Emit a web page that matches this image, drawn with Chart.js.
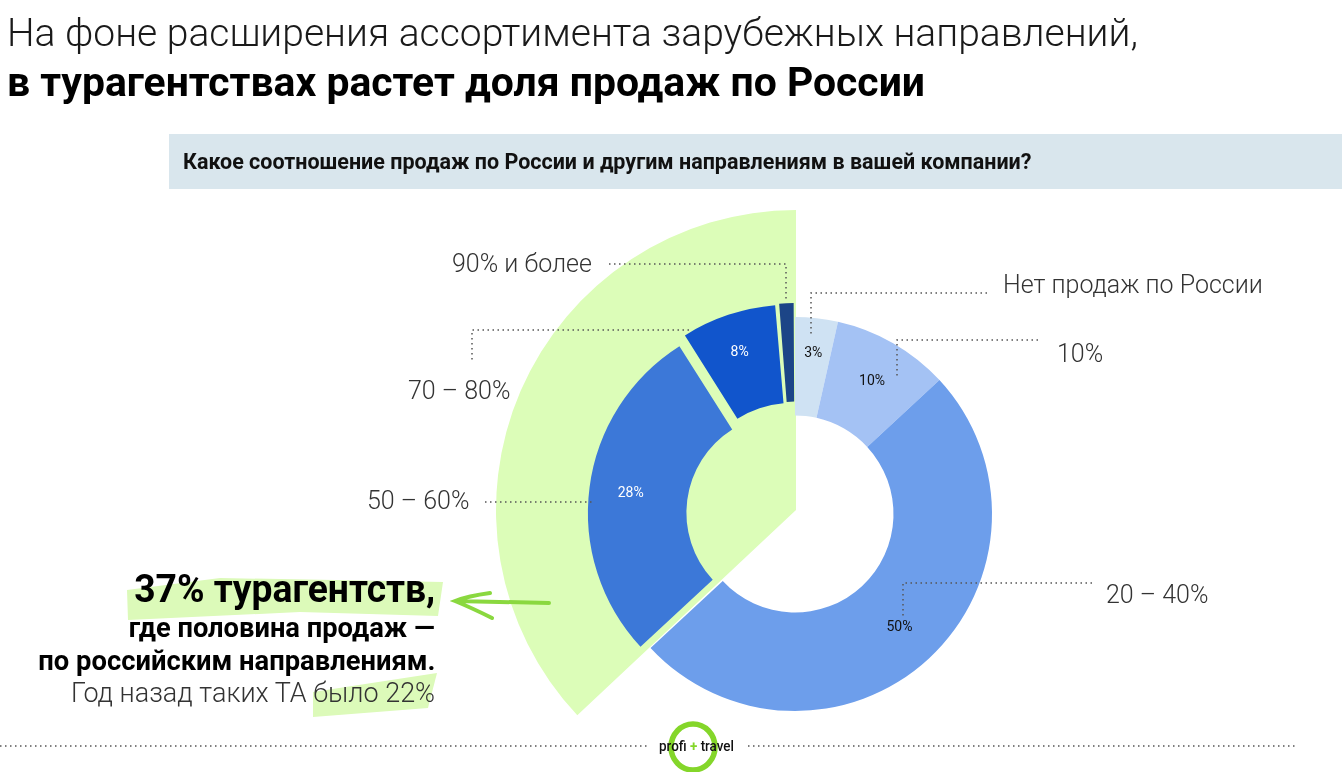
<!DOCTYPE html>
<html lang="ru">
<head>
<meta charset="utf-8">
<title>Доля продаж по России</title>
<script src="https://cdn.jsdelivr.net/npm/chart.js@4"></script>
<style>
    html, body { margin: 0; padding: 0; background: #fff; }
    body { position: relative; width: 1342px; height: 772px; overflow: hidden; font-family: Roboto, sans-serif; }
    canvas, svg { position: absolute; }
    .t { position: absolute; white-space: nowrap; line-height: 1; }
    .title { left: 7px; color: #1a1a1a; }
    .lab { font-size: 25px; font-weight: 300; color: #333; }
    .note { right: 907px; font-weight: 700; color: #000; transform-origin: right center; }
    #head { position: absolute; left: 169px; top: 134px; width: 1173px; height: 55px; background: #d9e6ed; }
</style>
</head>
<body>
<div id="head"></div>

<canvas id="back" width="640" height="640" style="left:476px;top:190px"></canvas>
<canvas id="pie" width="640" height="640" style="left:475px;top:194px"></canvas>

<svg width="1342" height="772" style="left:0;top:0">
    <g fill="#dcfab9">
        <polygon points="127,590 220,578 443,582 438,616 300,612 128,620"/>
        <polygon points="313,692 437,673 428,708 313,717"/>
    </g>
    <g fill="none" stroke="#8ad83f" stroke-width="4" stroke-linecap="round">
        <path d="M549,603 L456,601 M490,593 Q468,596 455,601 Q472,608 492,618"/>
    </g>
    <g fill="none" stroke="#555" stroke-width="1.5" stroke-dasharray="1.5 3.5">
        <path d="M609,264 H786 V301"/>
        <path d="M987,293 H811 V336"/>
        <path d="M1038,340 H897 V377"/>
        <path d="M689,330 H472 V362"/>
        <path d="M485,502 H592"/>
        <path d="M1092,583 H903 V616"/>
        <path d="M0,746 H648"/>
        <path d="M748,746 H1297"/>
    </g>
    <ellipse cx="693" cy="747" rx="22" ry="23" fill="none" stroke="#84d62a" stroke-width="5.5"/>
</svg>

<div class="t title" style="top:14px;font-size:39px;font-weight:300">На фоне расширения ассортимента зарубежных направлений,</div>
<div class="t title" style="top:62px;font-size:40.9px;font-weight:700;color:#000">в турагентствах растет доля продаж по России</div>
<div class="t" style="left:183px;top:151px;font-size:21.5px;font-weight:700;color:#111">Какое соотношение продаж по России и другим направлениям в вашей компании?</div>

<div class="t lab" style="left:452px;top:251px">90% и более</div>
<div class="t lab" style="left:1003px;top:272px">Нет продаж по России</div>
<div class="t lab" style="left:1057px;top:341px">10%</div>
<div class="t lab" style="left:408px;top:378px">70 – 80%</div>
<div class="t lab" style="left:367px;top:488px">50 – 60%</div>
<div class="t lab" style="left:1106px;top:582px">20 – 40%</div>

<div class="t note" style="top:570px;font-size:38px;transform:scaleX(.98)">37% турагентств,</div>
<div class="t note" style="top:614px;font-size:28px;transform:scaleX(.975)">где половина продаж —</div>
<div class="t note" style="top:647px;font-size:28px;transform:scaleX(.977)">по российским направлениям.</div>
<div class="t note" style="top:679px;font-size:28px;font-weight:300;color:#333;transform:scaleX(.963)">Год назад таких ТА было 22%</div>

<div class="t" style="left:659px;top:739px;font-size:14px;font-weight:500;color:#111;transform:scaleX(.96);transform-origin:left center">profi <span style="color:#84d62a;font-weight:700">+</span> travel</div>

<script>
// значения секторов
const categories = ['Нет продаж по России', '10%', '20 – 40%', '50 – 60%', '70 – 80%', '90% и более'];
const shares = [3.5, 9.6, 50, 27.9, 7.7, 1.3];
const shareLabels = ['3%', '10%', '50%', '28%', '8%', ''];
const sliceColors = ['#cfe2f3', '#a4c2f4', '#6d9eeb', '#3c78d8', '#1155cc', '#1c4587'];
const labelColors = ['#111', '#111', '#111', '#fff', '#fff', '#fff'];
const sliceOffsets = [0, 0, 0, 40, 34, 29];

// зеленый сектор за кольцом
const backCategories = ['остальные', 'половина и более'];
const backShares = [63, 37];

// сдвиг подписи от середины сектора
const labelShift = [[2, -14], [3.5, -4], [4, 5], [2, 1], [-3, -5], [0, 0]];

const valueLabels = {
    id: 'valueLabels',
    afterDatasetsDraw(chart) {
        const ctx = chart.ctx;
        const meta = chart.getDatasetMeta(0);
        ctx.save();
        ctx.font = '400 14px Roboto';
        ctx.textAlign = 'center';
        ctx.textBaseline = 'middle';
        meta.data.forEach((arc, i) => {
            const p = arc.tooltipPosition(false);
            ctx.fillStyle = labelColors[i];
            ctx.fillText(shareLabels[i], p.x + labelShift[i][0], p.y + labelShift[i][1]);
        });
        ctx.restore();
    }
};

new Chart(document.getElementById('back'), {
    type: 'pie',
    data: {
        labels: backCategories,
        datasets: [{
            data: backShares,
            backgroundColor: ['rgba(0,0,0,0)', '#dcfdb8'],
            borderWidth: 0,
        }]
    },
    options: {
        responsive: false,
        animation: false,
        radius: 300,
        plugins: { legend: { display: false }, tooltip: { enabled: false } },
    }
});

new Chart(document.getElementById('pie'), {
    type: 'doughnut',
    data: {
        labels: categories,
        datasets: [{
            data: shares,
            backgroundColor: sliceColors,
            offset: sliceOffsets,
            borderWidth: 0,
        }]
    },
    options: {
        responsive: false,
        animation: false,
        radius: 197,
        cutout: '50%',
        plugins: { legend: { display: false }, tooltip: { enabled: false } },
    },
    plugins: [valueLabels]
});
</script>
</body>
</html>
